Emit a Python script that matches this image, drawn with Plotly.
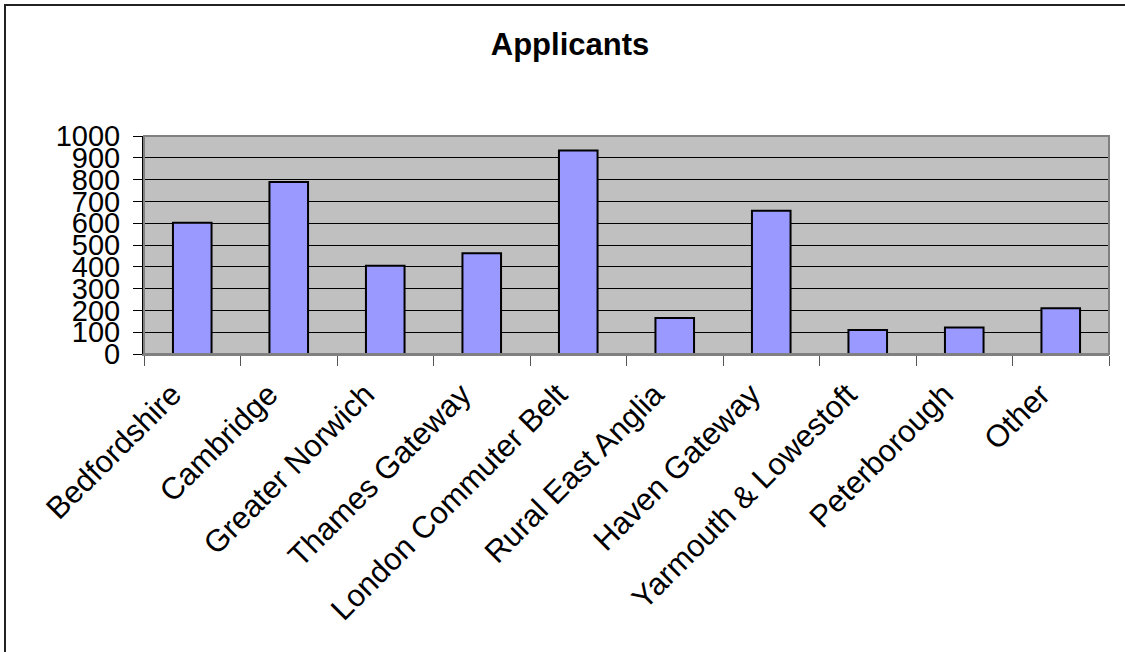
import plotly.graph_objects as go

# Applicant counts by area
areas = [
    "Bedfordshire", "Cambridge", "Greater Norwich", "Thames Gateway",
    "London Commuter Belt", "Rural East Anglia", "Haven Gateway",
    "Yarmouth & Lowestoft", "Peterborough", "Other",
]
applicants = [602, 789, 405, 462, 933, 165, 657, 110, 122, 210]
y_ticks = [0, 100, 200, 300, 400, 500, 600, 700, 800, 900, 1000]

W, H = 1125, 652
L, R, T, B = 144, 16, 136, 298
pw, ph = W - L - R, H - T - B

FONT = "Arial, Liberation Sans, sans-serif"

fig = go.Figure(
    go.Bar(
        x=areas,
        y=applicants,
        width=0.4,
        marker=dict(color="#9999FF", line=dict(color="black", width=2)),
    )
)


def px_x(p):
    return (p - L) / pw


def px_y(p):
    return (H - B - p) / ph


fig.update_layout(
    width=W,
    height=H,
    margin=dict(l=L, r=R, t=T, b=B),
    paper_bgcolor="white",
    plot_bgcolor="#C0C0C0",
    showlegend=False,
    title=dict(
        text="<b>Applicants</b>",
        font=dict(family=FONT, size=31, color="black"),
        x=570 / W, xref="container", xanchor="center",
        y=1 - 44 / H, yref="container", yanchor="middle",
    ),
    font=dict(family=FONT, color="black"),
    bargap=0.6,
    shapes=[
        # outer chart frame
        dict(type="rect", xref="paper", yref="paper",
             x0=px_x(5), x1=px_x(W + 10), y0=px_y(H + 10), y1=px_y(5),
             line=dict(color="#222222", width=2), layer="below"),
        # plot area frame
        dict(type="rect", xref="paper", yref="paper",
             x0=0, x1=1, y0=0, y1=1,
             line=dict(color="#808080", width=2), layer="above"),
    ],
)

fig.update_xaxes(
    type="category",
    tickangle=-45,
    tickfont=dict(family=FONT, size=31, color="black"),
    ticklabelshift=-20,
    ticklabelstandoff=8,
    ticks="outside",
    tickson="boundaries",
    ticklen=10,
    tickcolor="#555555",
    showline=True,
    linecolor="#808080",
    linewidth=2,
    showgrid=False,
    range=[-0.5, len(areas) - 0.5],
)

fig.update_yaxes(
    range=[0, 1000],
    tickvals=y_ticks,
    ticktext=[str(v) for v in y_ticks],
    tickfont=dict(family=FONT, size=29, color="black"),
    ticklabelstandoff=7,
    ticks="outside",
    ticklen=9,
    tickcolor="black",
    showline=True,
    linecolor="black",
    linewidth=2,
    showgrid=True,
    gridcolor="black",
    gridwidth=1,
    zeroline=False,
)

fig.write_html("out.html")
